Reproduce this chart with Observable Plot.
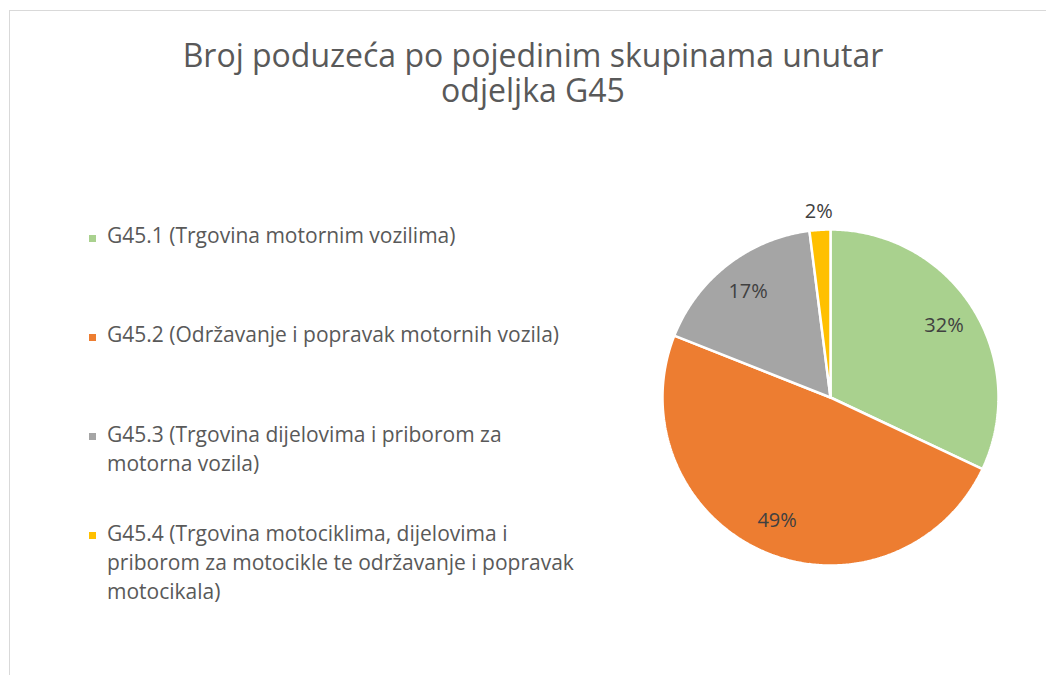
<!DOCTYPE html>
<html>
<head>
<meta charset="utf-8">
<script src="https://cdn.jsdelivr.net/npm/d3@7"></script>
<script src="https://cdn.jsdelivr.net/npm/@observablehq/plot@0.6"></script>
<style>
  html, body { margin: 0; padding: 0; background: #fff; }
  #wrap { position: relative; width: 1046px; height: 675px; overflow: hidden; font-family: "Open Sans", sans-serif; }
  #frame { position: absolute; left: 9px; top: 10px; width: 1100px; height: 700px; border: 1px solid #d9d9d9; box-sizing: border-box; }
  #title { position: absolute; left: 0; width: 1066px; top: 37px; text-align: center; font-size: 32px; line-height: 35px; color: #595959; }
  .leg { position: absolute; left: 107px; font-size: 21px; line-height: 29.3px; color: #595959; white-space: pre; }
  .sw { position: absolute; left: -18px; top: 13.5px; width: 7px; height: 7px; }
  #chart { position: absolute; left: 629.5px; top: 197px; }
</style>
</head>
<body>
<div id="wrap">
  <div id="frame"></div>
  <div id="title">Broj poduzeća po pojedinim skupinama unutar<br>odjeljka G45</div>
  <div id="legend"></div>
  <div id="chart"></div>
</div>
<script>
const categories = [
  "G45.1 (Trgovina motornim vozilima)",
  "G45.2 (Održavanje i popravak motornih vozila)",
  "G45.3 (Trgovina dijelovima i priborom za motorna vozila)",
  "G45.4 (Trgovina motociklima, dijelovima i priborom za motocikle te održavanje i popravak motocikala)"
];
const legendLines = [
  ["G45.1 (Trgovina motornim vozilima)"],
  ["G45.2 (Održavanje i popravak motornih vozila)"],
  ["G45.3 (Trgovina dijelovima i priborom za", "motorna vozila)"],
  ["G45.4 (Trgovina motociklima, dijelovima i", "priborom za motocikle te održavanje i popravak", "motocikala)"]
];
const values = [32, 49, 17, 2];
const labels = ["32%", "49%", "17%", "2%"];
const colors = ["#A9D18E", "#ED7D31", "#A5A5A5", "#FFC000"];

const data = categories.map((c, i) => ({cat: c, value: values[i], label: labels[i]}));
const arcs = d3.pie().sort(null).value(d => d.value)(data);

// slice outlines in unit-circle coordinates (clockwise from 12 o'clock)
const pts = [];
for (const a of arcs) {
  pts.push({cat: a.data.cat, x: 0, y: 0});
  const n = Math.max(2, Math.ceil((a.endAngle - a.startAngle) / 0.01));
  for (let k = 0; k <= n; k++) {
    const t = a.startAngle + (a.endAngle - a.startAngle) * k / n;
    pts.push({cat: a.data.cat, x: Math.sin(t), y: Math.cos(t)});
  }
  pts.push({cat: a.data.cat, x: 0, y: 0});
}
const lab = arcs.map(a => {
  const m = (a.startAngle + a.endAngle) / 2;
  const r = a.data.value < 5 ? 1.11 : 0.8;
  return {x: r * Math.sin(m), y: r * Math.cos(m), text: a.data.label};
});

const plot = Plot.plot({
  width: 400, height: 400, margin: 32,
  x: {domain: [-1, 1], axis: null},
  y: {domain: [-1, 1], axis: null},
  color: {domain: categories, range: colors},
  style: {background: "transparent", overflow: "visible"},
  marks: [
    Plot.line(pts, {x: "x", y: "y", z: "cat", fill: "cat", stroke: "white", strokeWidth: 2.5, strokeLinejoin: "miter", curve: "linear"}),
    Plot.text(lab, {x: "x", y: "y", text: "text", fill: "#404040", fontSize: 20, fontFamily: "Open Sans", textAnchor: "middle"})
  ]
});
document.getElementById("chart").appendChild(plot);

const legend = document.getElementById("legend");
legendLines.forEach((lines, i) => {
  const d = document.createElement("div");
  d.className = "leg";
  d.style.top = (221 + i * 99.3) + "px";
  d.textContent = lines.join("\n");
  const s = document.createElement("span");
  s.className = "sw";
  s.style.background = colors[i];
  d.appendChild(s);
  legend.appendChild(d);
});
</script>
</body>
</html>
